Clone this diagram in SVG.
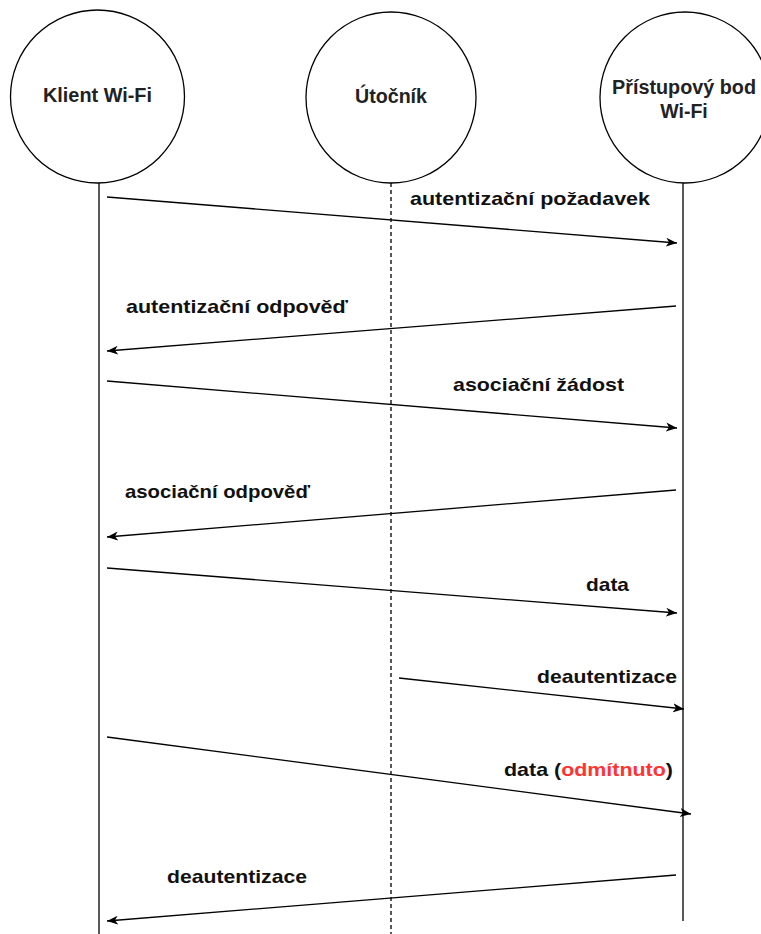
<svg xmlns="http://www.w3.org/2000/svg" width="761" height="934" viewBox="0 0 761 934">
<style>
.node{fill:#fff;stroke:#000;stroke-width:1.3}
.hdr{font-family:"Liberation Sans",Arial,sans-serif;font-weight:bold;font-size:19.5px;fill:#222;text-anchor:middle}
.lbl{font-family:"Liberation Sans",Arial,sans-serif;font-weight:bold;font-size:19px;fill:#111}
.life{stroke:#000;stroke-width:1.3;fill:none}
.msg{stroke:#000;stroke-width:1.3;fill:none;marker-end:url(#ah)}
.red{fill:#ff3333}
</style>
<defs>
<marker id="ah" markerUnits="userSpaceOnUse" markerWidth="12" markerHeight="10" refX="11" refY="5" orient="auto">
<path d="M0,0.5 L11,5 L0,9.5 L3,5 z" fill="#000"/>
</marker>
</defs>
<g id="lifelines">
<line class="life" x1="99" y1="183" x2="99" y2="934"/>
<line class="life" x1="391" y1="183" x2="391" y2="934" stroke-dasharray="4 3"/>
<line class="life" x1="683" y1="183" x2="683" y2="921"/>
</g>
<g id="klient">
<ellipse class="node" cx="97.5" cy="96.5" rx="87" ry="86.5"/>
<text class="hdr" x="97.5" y="102" textLength="109" lengthAdjust="spacingAndGlyphs">Klient Wi-Fi</text>
</g>
<g id="utocnik">
<ellipse class="node" cx="391" cy="97.5" rx="85" ry="85.5"/>
<text class="hdr" x="391" y="103" textLength="72" lengthAdjust="spacingAndGlyphs">Útočník</text>
</g>
<g id="ap">
<ellipse class="node" cx="685" cy="97.5" rx="85" ry="85.5"/>
<text class="hdr" x="684" y="94" textLength="144" lengthAdjust="spacingAndGlyphs">Přístupový bod</text>
<text class="hdr" x="684" y="118">Wi-Fi</text>
</g>
<g id="connectors">
<line class="msg" x1="107" y1="197" x2="677" y2="243"/>
<line class="msg" x1="676" y1="306" x2="107" y2="351"/>
<line class="msg" x1="107" y1="381" x2="677" y2="428"/>
<line class="msg" x1="676" y1="490" x2="107" y2="537"/>
<line class="msg" x1="107" y1="568" x2="677" y2="613"/>
<line class="msg" x1="399" y1="678" x2="684" y2="709"/>
<line class="msg" x1="107" y1="737" x2="691" y2="814"/>
<line class="msg" x1="676" y1="875" x2="107" y2="921"/>
</g>
<g id="labels">
<text class="lbl" x="410" y="205" textLength="240" lengthAdjust="spacingAndGlyphs">autentizační požadavek</text>
<text class="lbl" x="126" y="313" textLength="222" lengthAdjust="spacingAndGlyphs">autentizační odpověď</text>
<text class="lbl" x="453" y="391" textLength="171" lengthAdjust="spacingAndGlyphs">asociační žádost</text>
<text class="lbl" x="125" y="498" textLength="185" lengthAdjust="spacingAndGlyphs">asociační odpověď</text>
<text class="lbl" x="586" y="591" textLength="43" lengthAdjust="spacingAndGlyphs">data</text>
<text class="lbl" x="537" y="683" textLength="140" lengthAdjust="spacingAndGlyphs">deautentizace</text>
<text class="lbl" x="504" y="776" textLength="169" lengthAdjust="spacingAndGlyphs">data (<tspan class="red">odmítnuto</tspan>)</text>
<text class="lbl" x="167" y="883" textLength="140" lengthAdjust="spacingAndGlyphs">deautentizace</text>
</g>
</svg>
